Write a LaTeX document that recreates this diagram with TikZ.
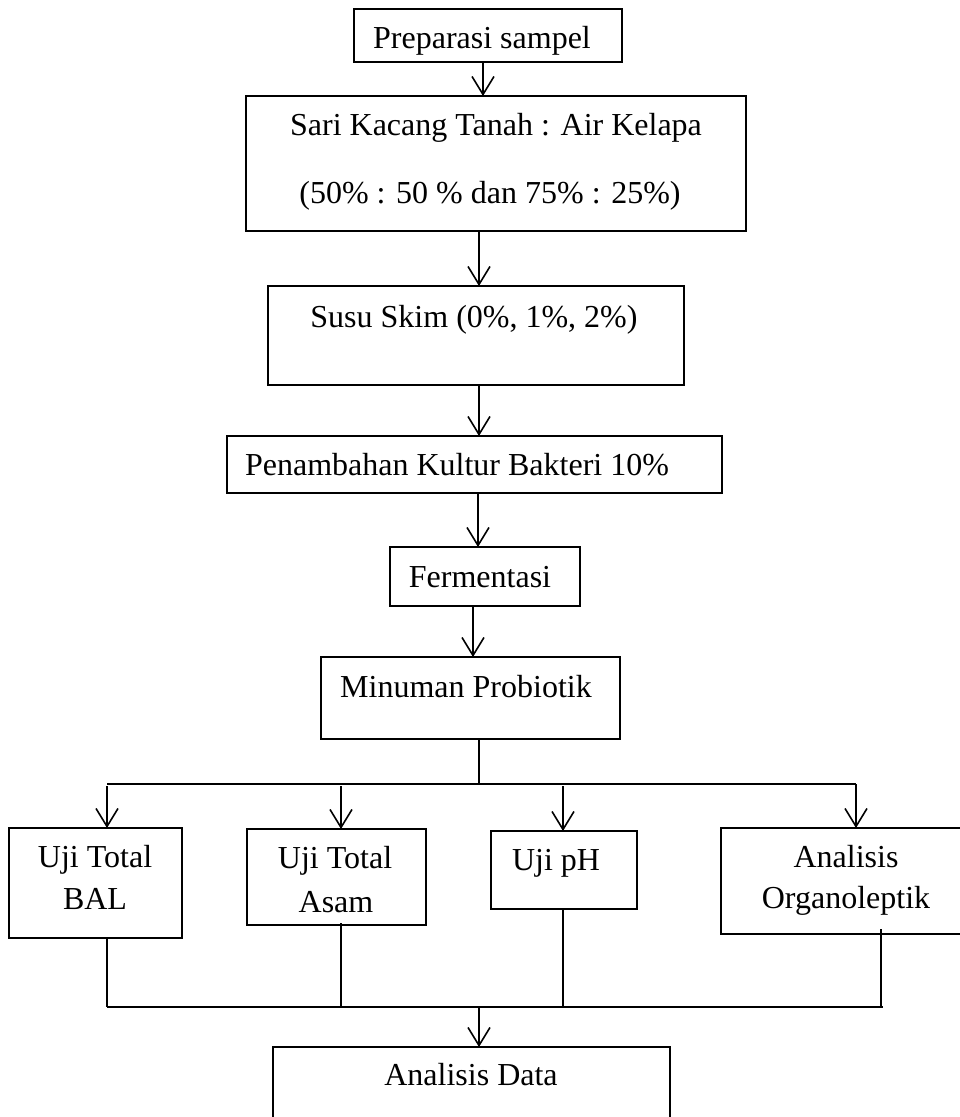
\documentclass[tikz,border=0pt]{standalone}
\usepackage{fontspec}
\setmainfont{Liberation Serif}
\usetikzlibrary{arrows.meta}
\begin{document}
\begin{tikzpicture}[x=1pt,y=-1pt,
  box/.style={draw, line width=1.3pt, rectangle, inner sep=0pt, outer sep=0pt, anchor=north west},
  lbl/.style={anchor=base, inner sep=0pt, font=\fontsize{32}{38}\selectfont},
  conn/.style={line width=1.6pt},
  arr/.style={conn, -{Straight Barb[length=18pt,width=22pt,line width=1.6pt]}}]
\clip (0,0) rectangle (960,1117);
\useasboundingbox (0,0) rectangle (960,1117);
% boxes
\node[box, minimum width=268pt, minimum height=53pt] (prep) at (354,9) {};
\node[box, minimum width=500pt, minimum height=135pt] (sari) at (246,96) {};
\node[box, minimum width=416pt, minimum height=99pt] (susu) at (268,286) {};
\node[box, minimum width=495pt, minimum height=57pt] (pen) at (227,436) {};
\node[box, minimum width=190pt, minimum height=59pt] (ferm) at (390,547) {};
\node[box, minimum width=299pt, minimum height=82pt] (minum) at (321,657) {};
\node[box, minimum width=173pt, minimum height=110pt] (bal) at (9,828) {};
\node[box, minimum width=179pt, minimum height=96pt] (asam) at (247,829) {};
\node[box, minimum width=146pt, minimum height=78pt] (ph) at (491,831) {};
\node[box, minimum width=260pt, minimum height=106pt] (org) at (721,828) {};
\node[box, minimum width=397pt, minimum height=100pt] (data) at (273,1047) {};
% texts
\node[lbl] (tprep) at (482,48) {Preparasi sampel};
\node[lbl] (tsari1) at (496,135) {Sari Kacang Tanah : Air Kelapa};
\node[lbl] (tsari2) at (490,203) {(50\% : 50 \% dan 75\% : 25\%)};
\node[lbl] (tsusu) at (474,327) {Susu Skim (0\%, 1\%, 2\%)};
\node[lbl] (tpen) at (457,475) {Penambahan Kultur Bakteri 10\%};
\node[lbl] (tferm) at (480,587) {Fermentasi};
\node[lbl] (tminum) at (466,697) {Minuman Probiotik};
\node[lbl] (tbal1) at (95,867) {Uji Total};
\node[lbl] (tbal2) at (95,909) {BAL};
\node[lbl] (tasam1) at (335,868) {Uji Total};
\node[lbl] (tasam2) at (336,912) {Asam};
\node[lbl] (tph) at (556,870) {Uji pH};
\node[lbl] (torg1) at (846,867) {Analisis};
\node[lbl] (torg2) at (846,908) {Organoleptik};
\node[lbl] (tdata) at (471,1085) {Analisis Data};
% coordinates
\coordinate (xa) at (483,0);
\coordinate (xb) at (479,0);
\coordinate (xc) at (478,0);
\coordinate (xd) at (473,0);
\coordinate (tm) at (479,784);
\coordinate (tbL) at (107,784);
\coordinate (ta) at (341,784);
\coordinate (tp) at (563,784);
\coordinate (tbR) at (856,784);
\coordinate (bbL) at (107,1007);
\coordinate (ba) at (341,1007);
\coordinate (bp) at (563,1007);
\coordinate (bo) at (881,1007);
\coordinate (bbR) at (883,1007);
\coordinate (bm) at (479,1007);
% connectors
\draw[arr] (prep.south -| xa) -- (sari.north -| xa);
\draw[arr] (sari.south -| xb) -- (susu.north -| xb);
\draw[arr] (susu.south -| xb) -- (pen.north -| xb);
\draw[arr] (pen.south -| xc) -- (ferm.north -| xc);
\draw[arr] (ferm.south -| xd) -- (minum.north -| xd);
\draw[conn] (minum.south -| tm) -- (tm);
\draw[conn] (tbL) -- (tbR);
\draw[arr] ([yshift=-2pt]tbL) -- (bal.north -| tbL);
\draw[arr] ([yshift=-2pt]ta) -- (asam.north -| ta);
\draw[arr] ([yshift=-2pt]tp) -- (ph.north -| tp);
\draw[arr] (tbR) -- (org.north -| tbR);
\draw[conn] (bal.south -| bbL) -- (bbL);
\draw[conn] ([yshift=2pt]asam.south -| ba) -- (ba);
\draw[conn] (ph.south -| bp) -- (bp);
\draw[conn] ([yshift=5pt]org.south -| bo) -- (bo);
\draw[conn] (bbL) -- (bbR);
\draw[arr] (bm) -- (data.north -| bm);
\end{tikzpicture}
\end{document}
